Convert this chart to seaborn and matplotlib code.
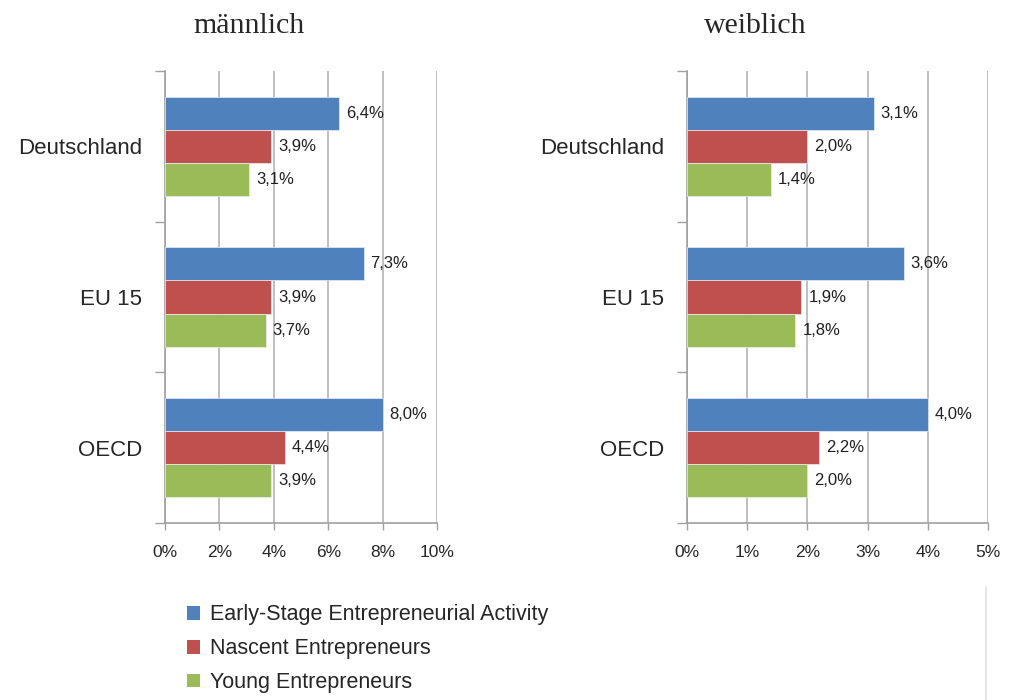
import pandas as pd
import seaborn as sns
import matplotlib.pyplot as plt
from matplotlib.lines import Line2D
from matplotlib.patches import Patch
from matplotlib.ticker import FixedLocator

# Daten

regionen = ["Deutschland", "EU 15", "OECD"]
serien = ["Early-Stage Entrepreneurial Activity", "Nascent Entrepreneurs", "Young Entrepreneurs"]
farben = ["#4F81BD", "#C0504D", "#9BBB59"]

maennlich = {
    "Early-Stage Entrepreneurial Activity": [6.4, 7.3, 8.0],
    "Nascent Entrepreneurs": [3.9, 3.9, 4.4],
    "Young Entrepreneurs": [3.1, 3.7, 3.9],
}
weiblich = {
    "Early-Stage Entrepreneurial Activity": [3.1, 3.6, 4.0],
    "Nascent Entrepreneurs": [2.0, 1.9, 2.2],
    "Young Entrepreneurs": [1.4, 1.8, 2.0],
}

x_max_m = 10
x_max_w = 5
x_ticks_m = [0, 2, 4, 6, 8, 10]
x_ticks_w = [0, 1, 2, 3, 4, 5]


def long_df(d):
    rows = []
    for s in serien:
        for r, v in zip(regionen, d[s]):
            rows.append({"Region": r, "Serie": s, "Wert": v})
    return pd.DataFrame(rows)


sns.set_style("white")
plt.rcParams["font.family"] = ["Liberation Sans", "DejaVu Sans"]

fig = plt.figure(figsize=(10.09, 7.0), dpi=100)
ax1 = fig.add_axes([165 / 1009, 177 / 700, 272 / 1009, 452 / 700])
ax2 = fig.add_axes([687 / 1009, 177 / 700, 301 / 1009, 452 / 700])

grau = "#A0A0A0"

for ax, d, xmax, xt in [(ax1, maennlich, x_max_m, x_ticks_m), (ax2, weiblich, x_max_w, x_ticks_w)]:
    df = long_df(d)
    sns.barplot(data=df, y="Region", x="Wert", hue="Serie", hue_order=serien,
                palette=farben, saturation=1, orient="h", width=0.66, gap=0,
                edgecolor="#E8EEF6", linewidth=0.5, legend=False, ax=ax, zorder=3)
    for cont, s in zip(ax.containers, serien):
        ax.bar_label(cont, labels=[f"{v:.1f}%".replace(".", ",") for v in d[s]],
                     padding=5, fontsize=12, color="#202020")
    ax.set_xlim(0, xmax)
    ax.set_ylim(2.5, -0.5)
    ax.set_xticks(xt)
    ax.set_xticklabels([f"{t}%" for t in xt], fontsize=12.5)
    ax.set_xlabel("")
    ax.set_ylabel("")
    ax.tick_params(axis="y", which="major", length=0, pad=16.5, labelsize=16)
    ax.yaxis.set_minor_locator(FixedLocator([-0.5, 0.5, 1.5, 2.5]))
    ax.tick_params(axis="y", which="minor", length=7, color=grau, width=1, left=True)
    ax.tick_params(axis="x", length=5, color=grau, width=1, bottom=True, pad=11)
    ax.grid(axis="x", color="#B4B4B4", linewidth=1.2, zorder=0)
    ax.set_axisbelow(True)
    for sp in ["top", "right"]:
        ax.spines[sp].set_visible(False)
    for sp in ["left", "bottom"]:
        ax.spines[sp].set_color(grau)
        ax.spines[sp].set_linewidth(1.2)

fig.text(249 / 1009, 1 - 26 / 700, "männlich", fontsize=21.5, family="Liberation Serif",
         ha="center", va="center")
fig.text(755 / 1009, 1 - 26 / 700, "weiblich", fontsize=21.5, family="Liberation Serif",
         ha="center", va="center")

handles = [Patch(facecolor=c, edgecolor="none") for c in farben]
fig.legend(handles, serien, loc="upper left", bbox_to_anchor=(168 / 1009, 1 - 585 / 700),
           frameon=False, fontsize=15.5, handlelength=0.6, handleheight=0.6,
           handletextpad=0.45, labelspacing=0.6)

fig.add_artist(Line2D([986 / 1009, 986 / 1009], [0, 1 - 587 / 700],
                      color="#E2E2E2", linewidth=1.2, transform=fig.transFigure))

plt.savefig("out.png", dpi=100)
